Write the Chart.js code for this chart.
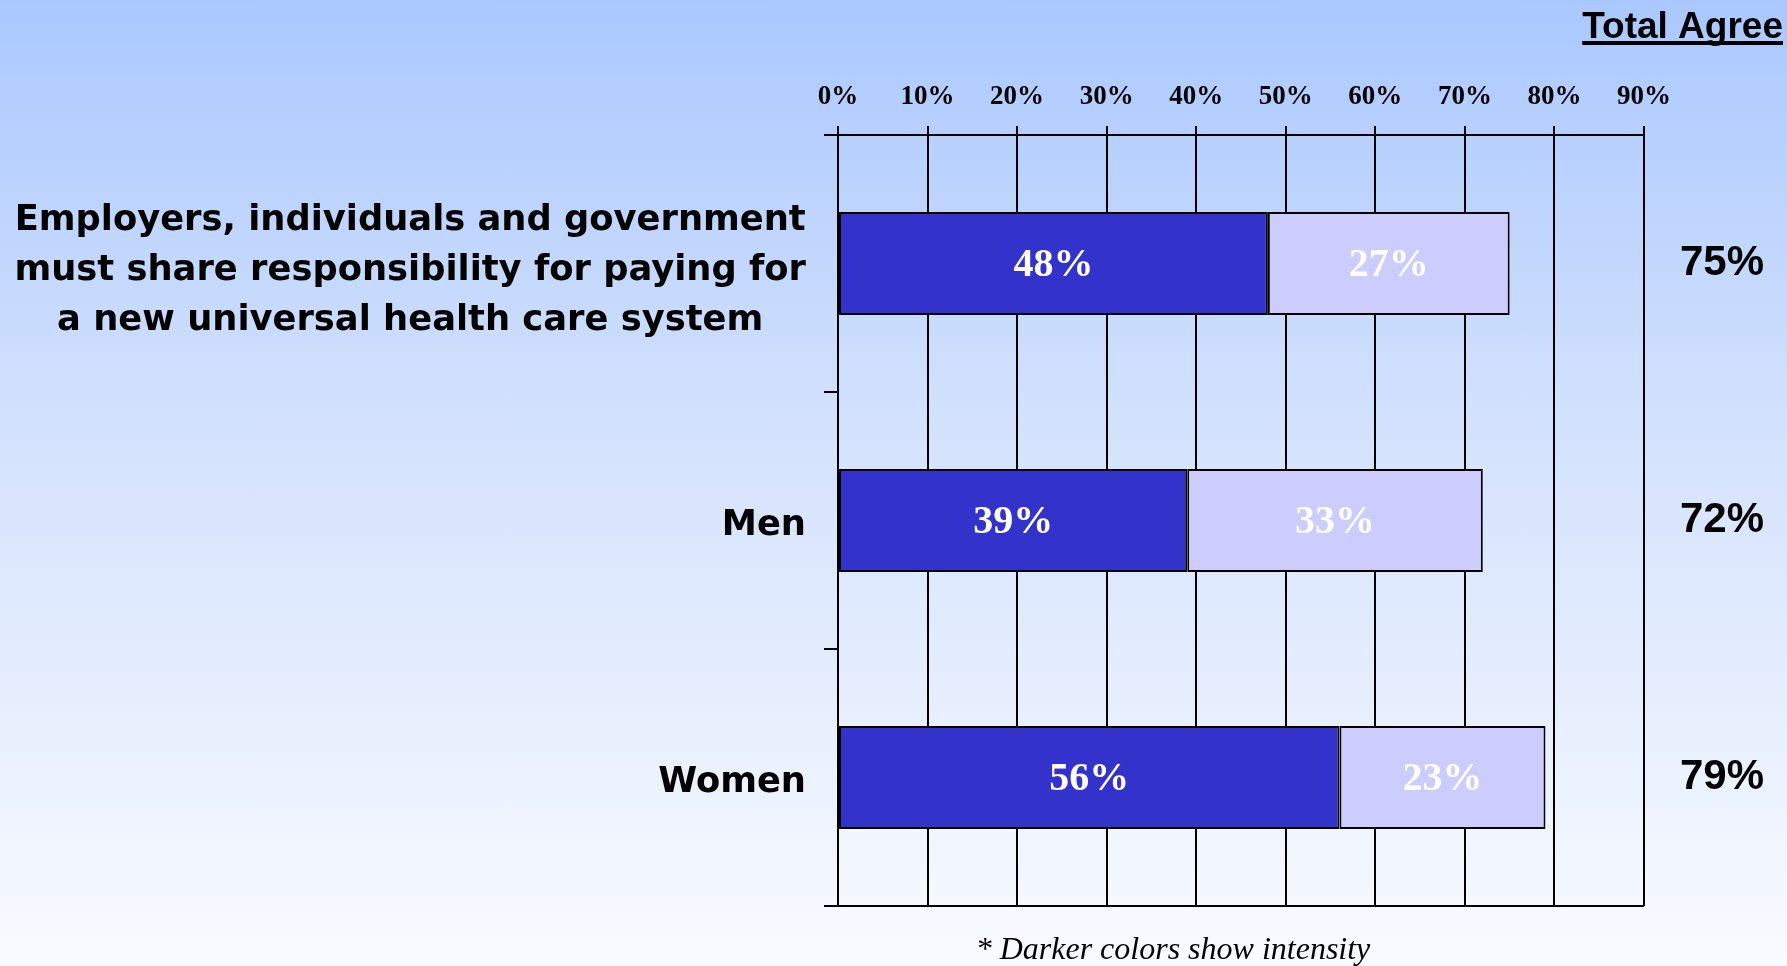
<!DOCTYPE html>
<html>
<head>
<meta charset="utf-8">
<title>Total Agree</title>
<script src="https://cdn.jsdelivr.net/npm/chart.js@4/dist/chart.umd.min.js"></script>
<style>
  html, body {
    margin: 0;
    padding: 0;
    width: 1787px;
    height: 966px;
    overflow: hidden;
  }
  body {
    background: linear-gradient(to bottom, #aac8ff 0%, #d4e2fd 45%, #f9fbff 100%);
  }
  canvas { display: block; }
</style>
</head>
<body>
<canvas id="agreeChart" width="1787" height="966"></canvas>
<script>
// Categories and values
const categories = [
  ["Employers, individuals and government",
   "must share responsibility for paying for",
   "a new universal health care system"],
  "Men",
  "Women"
];
const strongAgree = [48, 39, 56];
const somewhatAgree = [27, 33, 23];
const axisMax = 90;
const axisStep = 10;

const totals = strongAgree.map((v, i) => v + somewhatAgree[i]);

// Labels inside bars, category names on the left, totals on the right
const textPlugin = {
  id: "textPlugin",
  afterDatasetsDraw(chart) {
    const ctx = chart.ctx;
    const area = chart.chartArea;
    const yScale = chart.scales.y;
    ctx.save();

    // values inside each segment
    ctx.font = "bold 40px 'Liberation Serif'";
    ctx.fillStyle = "#fff";
    ctx.textAlign = "center";
    ctx.textBaseline = "middle";
    chart.data.datasets.forEach((ds, di) => {
      chart.getDatasetMeta(di).data.forEach((bar, i) => {
        const mid = (bar.x + bar.base) / 2;
        ctx.fillText(ds.data[i] + "%", mid, bar.y + 2);
      });
    });

    // category names, block right-aligned, lines centred in block
    ctx.font = "bold 35.3px 'DejaVu Sans'";
    ctx.fillStyle = "#000";
    const right = area.left - 32;
    categories.forEach((label, i) => {
      const lines = Array.isArray(label) ? label : [label];
      const y = yScale.getPixelForValue(i);
      const widest = Math.max(...lines.map(l => ctx.measureText(l).width));
      const cx = right - widest / 2;
      const lh = 50;
      const shift = lines.length > 1 ? 7 : 5;
      lines.forEach((line, j) => {
        ctx.fillText(line, cx, y + shift + (j - (lines.length - 1) / 2) * lh);
      });
    });

    // totals
    ctx.font = "bold 42px 'Liberation Sans'";
    totals.forEach((t, i) => {
      ctx.fillText(t + "%", 1722, yScale.getPixelForValue(i));
    });

    // header
    ctx.font = "bold 37px 'Liberation Sans'";
    ctx.textAlign = "right";
    ctx.textBaseline = "alphabetic";
    const head = "Total Agree";
    const hw = ctx.measureText(head).width;
    ctx.fillText(head, 1783, 38);
    ctx.fillRect(1783 - hw, 41, hw, 4);

    // footnote
    ctx.font = "italic 32px 'Liberation Serif'";
    ctx.textAlign = "center";
    ctx.textBaseline = "middle";
    ctx.fillText("* Darker colors show intensity", 1173, 951);

    ctx.restore();
  }
};

new Chart(document.getElementById("agreeChart"), {
  type: "bar",
  data: {
    labels: categories,
    datasets: [
      {
        label: "Strongly agree",
        data: strongAgree,
        backgroundColor: "#3333cc",
        borderColor: "#000",
        borderWidth: 2,
        borderSkipped: false,
        barPercentage: 0.4,
        categoryPercentage: 1
      },
      {
        label: "Somewhat agree",
        data: somewhatAgree,
        backgroundColor: "#ccccff",
        borderColor: "#000",
        borderWidth: 2,
        borderSkipped: false,
        barPercentage: 0.4,
        categoryPercentage: 1
      }
    ]
  },
  options: {
    indexAxis: "y",
    responsive: false,
    animation: false,
    layout: { padding: { left: 0, right: 143, top: 0, bottom: 60 } },
    plugins: {
      legend: { display: false },
      tooltip: { enabled: false }
    },
    scales: {
      x: {
        position: "top",
        stacked: true,
        min: 0,
        max: axisMax,
        ticks: {
          stepSize: axisStep,
          padding: 13,
          color: "#000",
          font: { family: "'Liberation Serif'", weight: "bold", size: 27 },
          callback: v => v + "%"
        },
        grid: { color: "#000", lineWidth: 2, tickLength: 9 },
        border: { display: true, color: "#000", width: 2 },
        afterFit(scale) { scale.height = 135; }
      },
      y: {
        stacked: true,
        ticks: { display: false },
        grid: {
          offset: true,
          lineWidth: 2,
          tickLength: 14,
          tickColor: "#000",
          // only the outer boundary lines run across the plot
          color: c => (c.type !== "tick" || c.index === 0) ? "#000" : "rgba(0,0,0,0)"
        },
        border: { display: true, color: "#000", width: 2 },
        afterFit(scale) { scale.width = 838; }
      }
    }
  },
  plugins: [textPlugin]
});
</script>
</body>
</html>
